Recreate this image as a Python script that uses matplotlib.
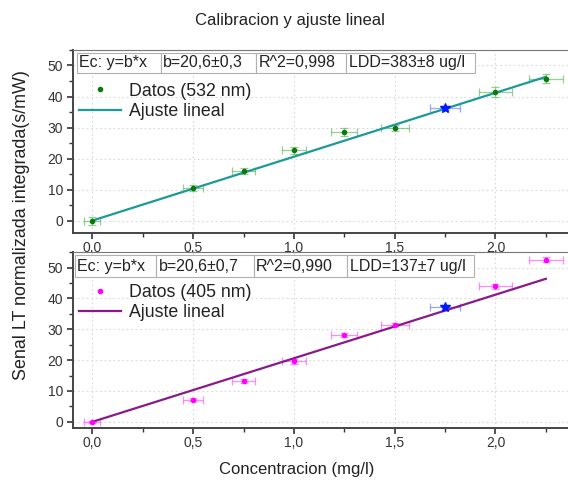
import numpy as np
import matplotlib
matplotlib.use("Agg")
import matplotlib.pyplot as plt
from matplotlib.ticker import MultipleLocator, FuncFormatter

plt.rcParams["font.family"] = ["Liberation Sans", "DejaVu Sans"]

# === Datos ===
conc = [0.0, 0.5, 0.75, 1.0, 1.25, 1.5, 2.0, 2.25]
conc_err = [0.04, 0.05, 0.055, 0.06, 0.065, 0.07, 0.08, 0.085]
senal_532 = [0.0, 10.4, 16.0, 22.6, 28.6, 29.9, 41.5, 45.8]
err_532 = [1.3, 1.0, 1.0, 1.2, 1.4, 1.0, 1.5, 1.6]
senal_405 = [0.0, 7.2, 13.3, 19.6, 28.1, 31.5, 43.9, 52.5]
err_405 = [0.4, 0.5, 0.6, 0.8, 0.6, 0.5, 0.9, 0.8]

# punto de control (estrella azul)
x_star = [1.75]
x_star_err = [0.075]
y_star_532 = [36.3]
y_star_405 = [37.1]

b_532 = 20.6
b_405 = 20.6
x_fit = [0.0, 2.25]

info_532 = ["Ec: y=b*x", "b=20,6±0,3", "R^2=0,998", "LDD=383±8 ug/l"]
info_405 = ["Ec: y=b*x", "b=20,6±0,7", "R^2=0,990", "LDD=137±7 ug/l"]

fig = plt.figure(figsize=(5.68, 4.82), dpi=100)
ax1 = fig.add_axes([0.1285, 0.5166, 0.878, 0.3797])
ax2 = fig.add_axes([0.1285, 0.112, 0.878, 0.365])

coma = FuncFormatter(lambda v, p: f"{v:.1f}".replace(".", ","))


def panel(ax, y, yerr, ystar, b, data_col, err_col, fit_col, lab, info, box, cols, ylim):
    ax.errorbar(conc, y, xerr=conc_err, yerr=yerr, fmt="none", ecolor=err_col,
                elinewidth=0.9, capsize=3, capthick=0.9, alpha=0.6, zorder=2)
    ax.errorbar(x_star, ystar, xerr=x_star_err, yerr=[0.8], fmt="none", ecolor="#5a6cf0",
                elinewidth=0.9, capsize=3, capthick=0.9, alpha=0.6, zorder=2)
    ax.plot(conc, y, "o", color=data_col, ms=3, label=lab, zorder=4)
    ax.plot(x_star, ystar, "*", color="#0018ff", ms=7, zorder=4)
    ax.plot(x_fit, [b * v for v in x_fit], color=fit_col, lw=1.6, label="Ajuste lineal", zorder=3)

    ax.set_xlim(-0.096, 2.378)
    ax.set_ylim(*ylim)
    ax.xaxis.set_major_locator(MultipleLocator(0.5))
    ax.xaxis.set_minor_locator(MultipleLocator(0.25))
    ax.yaxis.set_major_locator(MultipleLocator(10))
    ax.yaxis.set_minor_locator(MultipleLocator(5))
    ax.xaxis.set_major_formatter(coma)
    ax.grid(True, which="major", ls=(0, (1.5, 2.5)), color="#d8d8d8", lw=0.8)
    ax.tick_params(which="major", direction="out", length=4.5, width=1.2, labelsize=10,
                   colors="#333333", labelcolor="#333333", pad=2.5)
    ax.tick_params(which="minor", direction="out", length=3, width=1.0, colors="#333333")
    ax.tick_params(axis="x", which="major", pad=1.5)
    for s in ["left", "bottom"]:
        ax.spines[s].set_linewidth(1.4)
        ax.spines[s].set_color("#444444")
    ax.spines["top"].set_linewidth(0.8)
    ax.spines["top"].set_color("#777777")
    ax.spines["right"].set_visible(False)

    tb = ax.table(cellText=[info], colWidths=cols, bbox=box, cellLoc="left")
    tb.auto_set_font_size(False)
    for c in tb.get_celld().values():
        c.set_edgecolor("#b0b0b0")
        c.set_linewidth(0.8)
        c.get_text().set_fontsize(11.5)
        c.get_text().set_color("#222222")
        c.PAD = 0.025
    tb.set_zorder(5)

    leg = ax.legend(loc="upper left", bbox_to_anchor=(-0.01, 0.88), frameon=False,
                    fontsize=12.8, handlelength=2.4, handletextpad=0.45, labelspacing=0.2,
                    borderaxespad=0.2)
    for t in leg.get_texts():
        t.set_color("#222222")


panel(ax1, senal_532, err_532, y_star_532, b_532, "#0a7a0a", "#4fb04f", "#1c9a9a",
      "Datos (532 nm)", info_532, [0.008, 0.874, 0.798, 0.11],
      [0.211, 0.239, 0.226, 0.324], (-4, 55))
panel(ax2, senal_405, err_405, y_star_405, b_405, "#ff00ff", "#ff40ff", "#8a1a8a",
      "Datos (405 nm)", info_405, [0.004, 0.858, 0.80, 0.125],
      [0.204, 0.244, 0.234, 0.318], (-2, 55))

fig.text(0.51, 0.958, "Calibracion y ajuste lineal", ha="center", va="center",
         fontsize=12, color="#222222")
fig.text(0.038, 0.533, "Senal LT normalizada integrada(s/mW)", rotation=90,
         ha="center", va="center", fontsize=12.9, color="#222222")
fig.text(0.523, 0.025, "Concentracion (mg/l)", ha="center", va="center",
         fontsize=12, color="#222222")

fig.savefig("out.png", dpi=100)
